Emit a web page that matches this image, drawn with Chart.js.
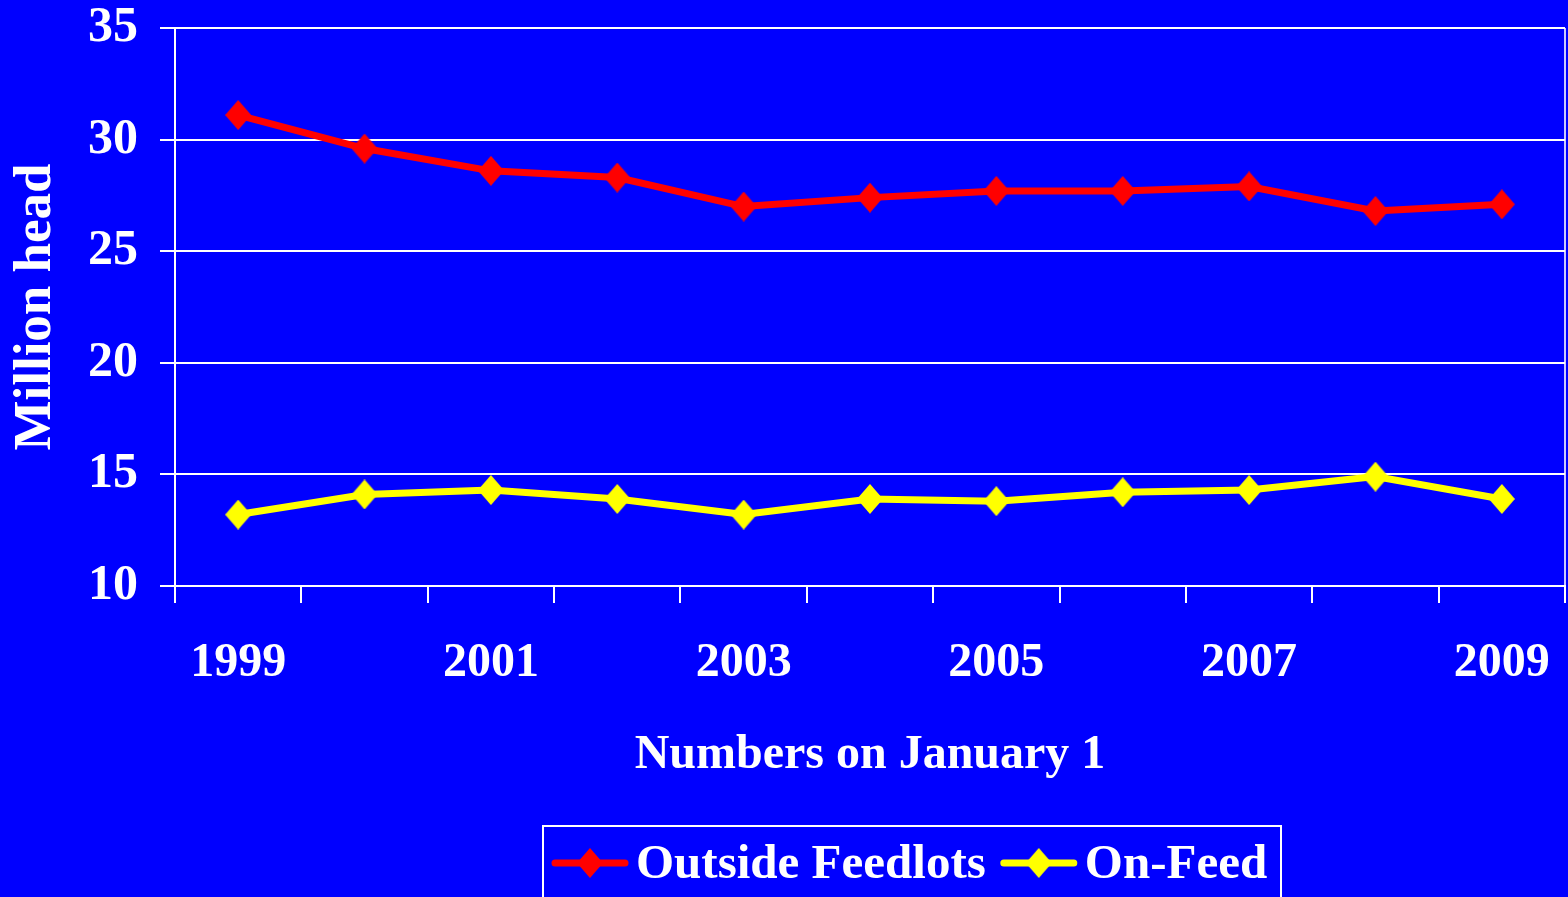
<!DOCTYPE html>
<html lang="en">
<head>
  <meta charset="UTF-8">
  <title>Cattle outside feedlots and on feed</title>
  <script src="https://cdn.jsdelivr.net/npm/chart.js"></script>
  <style>
    html, body {
      margin: 0;
      padding: 0;
      background-color: #0000ff;
      overflow: hidden;
    }
    #chart {
      display: block;
    }
  </style>
</head>
<body>
  <!-- a few px wider than the window: Chart.js keeps some room right of the last category -->
  <canvas id="chart" width="1576" height="897"></canvas>

  <script>
    // Data
    const years = ['1999', '2000', '2001', '2002', '2003', '2004', '2005', '2006', '2007', '2008', '2009'];
    const outsideFeedlots = [31.1, 29.6, 28.6, 28.3, 27.0, 27.4, 27.7, 27.7, 27.9, 26.8, 27.1];
    const onFeed = [13.2, 14.1, 14.3, 13.9, 13.2, 13.9, 13.8, 14.2, 14.3, 14.9, 13.9];
    const yMin = 10, yMax = 35, yStep = 5;

    const FONT = "'Liberation Serif', 'Times New Roman', serif";
    const H = 897;
    const plotTop = 28;
    const plotBottom = 586;

    // diamond marker, a little taller than wide like in the original slide
    function diamond(color) {
      const w = 26, h = 30;
      const c = document.createElement('canvas');
      c.width = w;
      c.height = h;
      const g = c.getContext('2d');
      g.fillStyle = color;
      g.beginPath();
      g.moveTo(w / 2, 0);
      g.lineTo(w, h / 2);
      g.lineTo(w / 2, h);
      g.lineTo(0, h / 2);
      g.closePath();
      g.fill();
      return c;
    }

    // Legend drawn as a framed box under the chart
    const boxLegend = {
      id: 'boxLegend',
      afterDraw(chart) {
        const g = chart.ctx;
        const left = 543, right = 1281, top = 826;
        const cy = 863;
        g.save();
        g.strokeStyle = '#ffffff';
        g.lineWidth = 2;
        g.strokeRect(left, top, right - left, 100);

        g.font = 'bold 49px ' + FONT;
        g.textBaseline = 'middle';
        g.textAlign = 'left';
        let x = left + 12;
        chart.data.datasets.forEach(ds => {
          g.strokeStyle = ds.borderColor;
          g.lineWidth = 7;
          g.lineCap = 'round';
          g.beginPath();
          g.moveTo(x, cy);
          g.lineTo(x + 70, cy);
          g.stroke();
          const img = ds.pointStyle;
          g.drawImage(img, x + 35 - img.width / 2, cy - img.height / 2);
          x += 81;
          g.fillStyle = '#ffffff';
          g.fillText(ds.label, x, cy + 2);
          x += g.measureText(ds.label).width + 18;
        });
        g.restore();
      }
    };

    const ctx = document.getElementById('chart').getContext('2d');
    new Chart(ctx, {
      type: 'line',
      data: {
        labels: years,
        datasets: [
          {
            label: 'Outside Feedlots',
            data: outsideFeedlots,
            borderColor: '#ff0000',
            backgroundColor: '#ff0000',
            borderWidth: 7,
            pointStyle: diamond('#ff0000'),
            tension: 0
          },
          {
            label: 'On-Feed',
            data: onFeed,
            borderColor: '#ffff00',
            backgroundColor: '#ffff00',
            borderWidth: 7,
            pointStyle: diamond('#ffff00'),
            tension: 0
          }
        ]
      },
      options: {
        responsive: false,
        animation: false,
        events: [],
        layout: {
          padding: { left: 0, right: 3, top: plotTop, bottom: 0 }
        },
        plugins: {
          legend: { display: false },
          tooltip: { enabled: false }
        },
        scales: {
          x: {
            type: 'category',
            offset: true,
            afterFit: scale => {
              scale.height = H - plotBottom;
              scale.paddingLeft = 0;
              scale.paddingRight = 0;
            },
            grid: {
              offset: true,
              drawOnChartArea: true,
              // only the closing line on the right edge shows inside the plot
              color: c => (c.type === 'scale' ? '#c8c8ff' : 'rgba(0,0,0,0)'),
              lineWidth: 2,
              tickColor: '#ffffff',
              tickLength: 17
            },
            border: { display: true, color: '#ffffff', width: 2 },
            ticks: {
              autoSkip: false,
              maxRotation: 0,
              padding: 32,
              color: '#ffffff',
              font: { family: FONT, size: 48, weight: 'bold' },
              callback: (v, i) => (i % 2 === 0 ? years[i] : '')
            },
            title: {
              display: true,
              text: 'Numbers on January 1',
              color: '#ffffff',
              font: { family: FONT, size: 48, weight: 'bold' },
              padding: { top: 0, bottom: 113 }
            }
          },
          y: {
            min: yMin,
            max: yMax,
            afterFit: scale => {
              scale.width = 175;
              scale.paddingTop = 0;
              scale.paddingBottom = 0;
            },
            grid: {
              color: '#ffffff',
              lineWidth: 2,
              tickColor: '#ffffff',
              tickLength: 15
            },
            border: { display: true, color: '#ffffff', width: 2 },
            ticks: {
              stepSize: yStep,
              padding: 22,
              color: '#ffffff',
              font: { family: FONT, size: 50, weight: 'bold', lineHeight: 1 }
            },
            title: {
              display: true,
              text: 'Million head',
              color: '#ffffff',
              font: { family: FONT, size: 53, weight: 'bold' },
              padding: { top: 5, bottom: 0 }
            }
          }
        }
      },
      plugins: [boxLegend]
    });
  </script>
</body>
</html>
